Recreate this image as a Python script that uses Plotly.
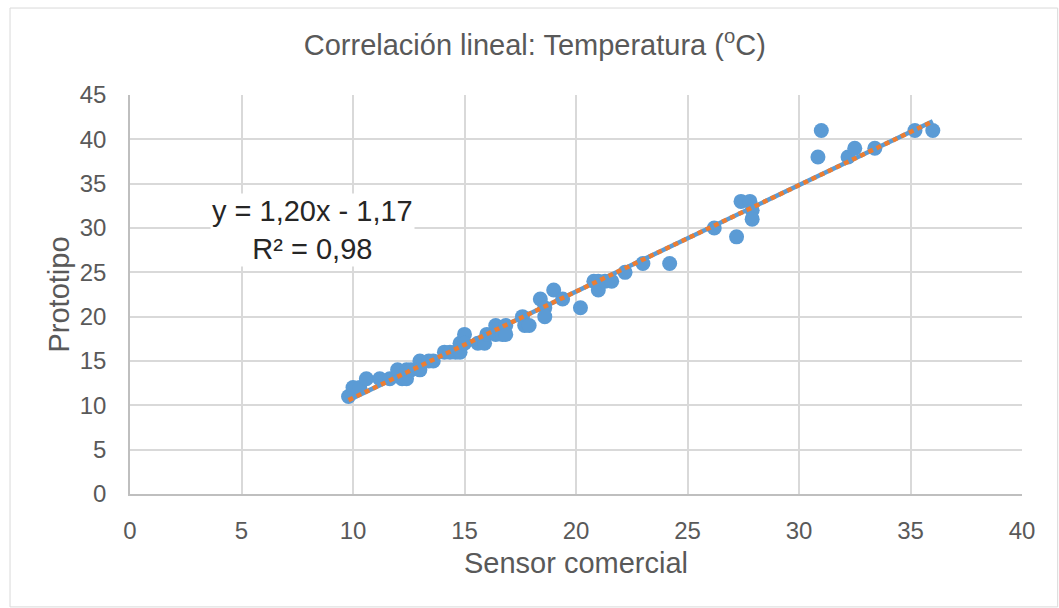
import plotly.graph_objects as go

sensor = [9.8, 10.0, 10.3, 10.6, 11.2, 11.65, 12.0, 12.2, 12.4, 12.4, 12.6,
          13.0, 13.0, 13.4, 13.6, 14.1, 14.35, 14.6, 14.8, 14.8, 15.0, 15.0,
          15.6, 15.9, 16.0, 16.4, 16.4, 16.7, 16.85, 16.85, 17.6, 17.7, 17.9,
          18.4, 18.6, 18.6, 19.0, 19.4, 20.2, 20.8, 21.0, 21.0, 21.3, 21.6,
          22.2, 23.0, 24.2, 26.2, 27.2, 27.4, 27.8, 27.9, 27.9, 30.85, 31.0,
          32.2, 32.5, 33.4, 35.2, 36.0]
prototipo = [11, 12, 12, 13, 13, 13, 14, 13, 14, 13, 14,
             15, 14, 15, 15, 16, 16, 16, 17, 16, 18, 17,
             17, 17, 18, 19, 18, 18, 19, 18, 20, 19, 19,
             22, 21, 20, 23, 22, 21, 24, 24, 23, 24, 24,
             25, 26, 26, 30, 29, 33, 33, 32, 31, 38, 41,
             38, 39, 39, 41, 41]

slope, intercept = 1.20, -1.17
trend_x = [min(sensor), max(sensor)]
trend_y = [slope * v + intercept for v in trend_x]

x_ticks = [0, 5, 10, 15, 20, 25, 30, 35, 40]
y_ticks = [0, 5, 10, 15, 20, 25, 30, 35, 40, 45]

gray = "#595959"
font = "Liberation Sans, Arial, sans-serif"

fig = go.Figure()
fig.add_trace(go.Scatter(x=sensor, y=prototipo, mode="markers",
                         marker=dict(size=15, color="#5b9bd5"), showlegend=False))
fig.add_trace(go.Scatter(x=trend_x, y=trend_y, mode="lines",
                         line=dict(color="#5b9bd5", width=4.5), showlegend=False))
fig.add_trace(go.Scatter(x=trend_x, y=trend_y, mode="lines",
                         line=dict(color="#ed7d31", width=4.5, dash="5px,4px"), showlegend=False))

fig.update_layout(
    width=1059, height=608,
    margin=dict(l=130, r=37, t=95, b=114),
    paper_bgcolor="white", plot_bgcolor="white",
    font=dict(family=font, color=gray),
    title=dict(text="Correlación lineal: Temperatura (<sup style='font-size:70%'>o</sup>C)", x=0.505,
               xref="container", xanchor="center", y=0.926, yref="container", yanchor="middle",
               font=dict(size=29, color=gray)),
    xaxis=dict(range=[0, 40], tickvals=x_ticks, showgrid=True, gridcolor="#d9d9d9", gridwidth=1.5,
               zeroline=False, showline=True, linecolor="#bfbfbf", linewidth=1.5, ticks="",
               ticklabelstandoff=14, tickfont=dict(size=24, color=gray),
               title=dict(text="Sensor comercial", font=dict(size=29, color=gray), standoff=10)),
    yaxis=dict(range=[0, 45], tickvals=y_ticks, showgrid=True, gridcolor="#d9d9d9", gridwidth=1.5,
               zeroline=False, showline=True, linecolor="#bfbfbf", linewidth=1.5, ticks="",
               ticklabelstandoff=17, tickfont=dict(size=24, color=gray),
               title=dict(text="Prototipo", font=dict(size=29, color=gray), standoff=2)),
    shapes=[dict(type="rect", xref="paper", yref="paper", x0=-0.1345, x1=1.04, y0=-0.283, y1=1.218,
                 line=dict(color="#d9d9d9", width=1), fillcolor="rgba(0,0,0,0)", layer="below")],
    annotations=[dict(x=8.2, y=29.8, xref="x", yref="y",
                      text="y = 1,20x - 1,17<br>R² = 0,98", showarrow=False,
                      font=dict(size=29, color="#262626"), bgcolor="white", align="center")],
)

fig.write_html("out.html")
